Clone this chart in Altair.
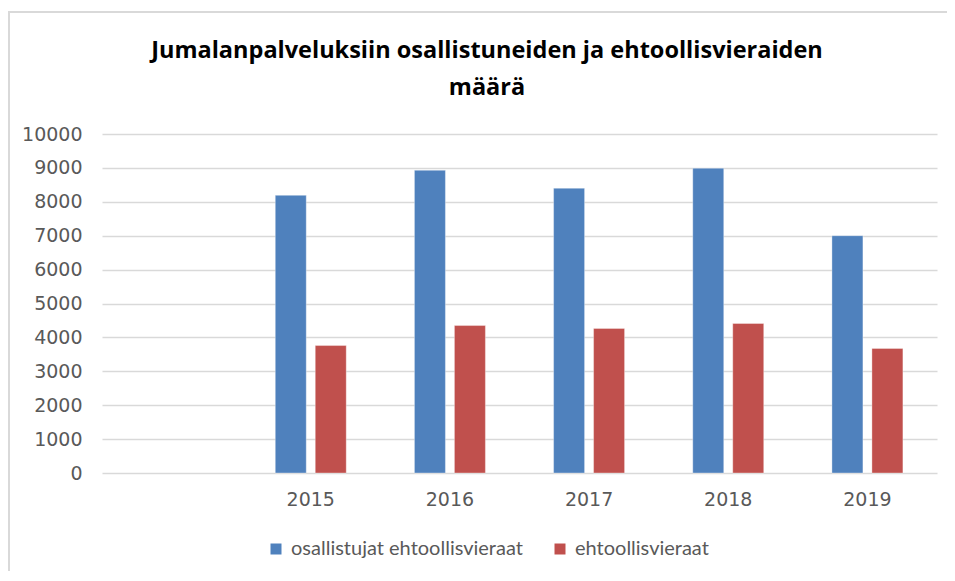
import altair as alt
import pandas as pd

years = ["", "2015", "2016", "2017", "2018", "2019"]
data_years = ["2015", "2016", "2017", "2018", "2019"]
series_names = ["osallistujat ehtoollisvieraat", "ehtoollisvieraat"]
osallistujat = [8190, 8930, 8400, 8990, 7000]
ehtoollisvieraat = [3760, 4350, 4265, 4410, 3675]
y_ticks = [0, 1000, 2000, 3000, 4000, 5000, 6000, 7000, 8000, 9000, 10000]
colors = ["#4F81BD", "#C0504D"]
title_lines = ["Jumalanpalveluksiin osallistuneiden ja ehtoollisvieraiden", "määrä"]

rows = []
for yr, a, b in zip(data_years, osallistujat, ehtoollisvieraat):
    rows.append({"vuosi": yr, "sarja": series_names[0], "arvo": a})
    rows.append({"vuosi": yr, "sarja": series_names[1], "arvo": b})
df = pd.DataFrame(rows)

W, H = 835, 339
AXFONT = "DejaVu Sans"

bars = alt.Chart(df).mark_bar(strokeWidth=1, strokeOpacity=0.35, stroke="white").encode(
    x=alt.X("vuosi:N", scale=alt.Scale(domain=years, paddingInner=0.49, paddingOuter=0.245),
            axis=alt.Axis(title=None, labelAngle=0, domain=False, ticks=False, grid=False,
                          labelPadding=17, labelFontSize=19, labelColor="#595959", labelFont=AXFONT)),
    xOffset=alt.XOffset("sarja:N", scale=alt.Scale(domain=series_names, paddingInner=0.225)),
    y=alt.Y("arvo:Q", scale=alt.Scale(domain=[0, 10000], nice=False),
            axis=alt.Axis(title=None, values=y_ticks, format="d", domain=False, ticks=False,
                          gridColor="#d9d9d9", gridWidth=1.5,
                          labelPadding=20, labelFontSize=19, labelColor="#595959", labelFont=AXFONT)),
    color=alt.Color("sarja:N", scale=alt.Scale(domain=series_names, range=colors),
                    legend=alt.Legend(title=None, orient="none", direction="horizontal",
                                      legendX=164, legendY=405, symbolType="square",
                                      symbolSize=121, symbolStrokeWidth=0, symbolOpacity=1,
                                      labelFontSize=20, labelColor="#595959", labelFont="Lato",
                                      labelLimit=0, columnPadding=27, labelOffset=5)),
)

frame = alt.Chart(pd.DataFrame({"k": [0]})).mark_rect(
    fill=None, stroke="#d9d9d9", strokeWidth=2
).encode(
    x=alt.value(-93), x2=alt.value(900), y=alt.value(-122), y2=alt.value(500)
)

title = alt.Chart(pd.DataFrame({"k": [0]})).mark_text(
    text=title_lines, font="Open Sans", fontSize=23.5, fontWeight="bold", color="#000000",
    align="center", baseline="alphabetic", lineHeight=37
).encode(x=alt.value(385), y=alt.value(-76))

chart = alt.layer(frame, bars, title).properties(
    width=W, height=H,
    background="white",
    autosize=alt.AutoSizeParams(type="none"),
    padding={"left": 94, "top": 126, "right": 10, "bottom": 98},
).configure_view(strokeWidth=0, stroke="transparent")

chart.save("out.html", embed_options={"renderer": "svg", "actions": False})
